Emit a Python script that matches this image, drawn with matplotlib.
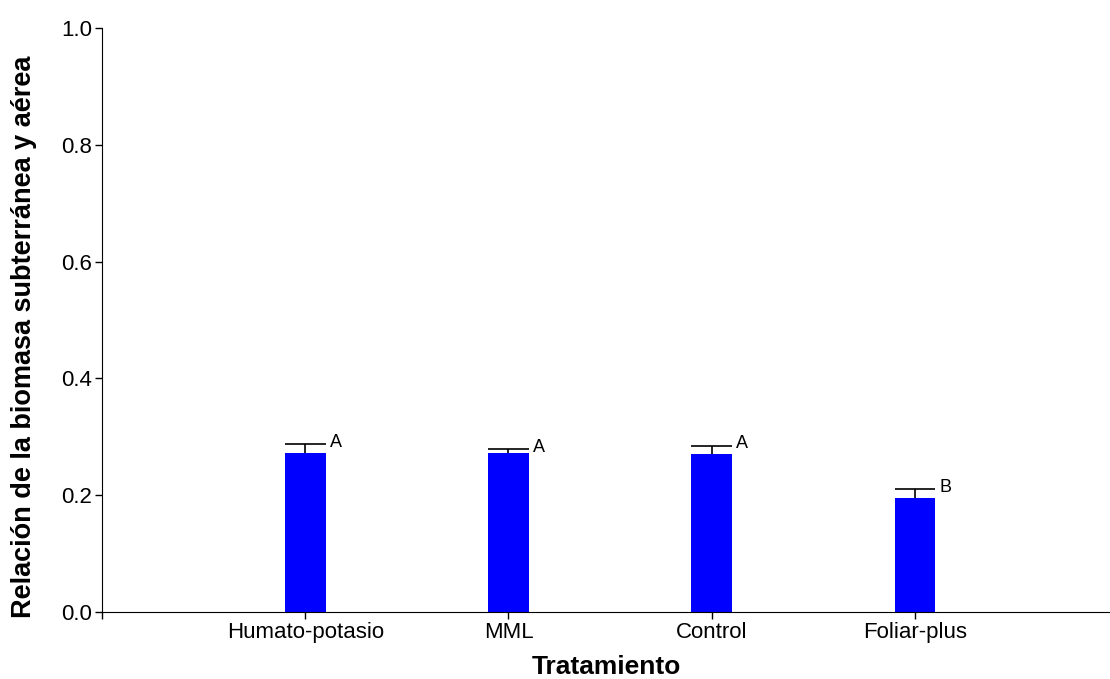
import matplotlib
matplotlib.use('Agg')
from matplotlib import pyplot as plt

# Datos
tratamientos = ['Humato-potasio', 'MML', 'Control', 'Foliar-plus']
medias = [0.272, 0.272, 0.270, 0.196]
errores = [0.016, 0.007, 0.015, 0.015]
letras = ['A', 'A', 'A', 'B']

plt.rcParams['font.family'] = ['Liberation Sans', 'DejaVu Sans']

fig = plt.figure(figsize=(11.1, 6.79), dpi=100)
ax = fig.add_axes([0.0919, 0.0987, 0.9081, 0.8601])

ancho = 0.2
pos = list(range(len(tratamientos)))
ax.bar(pos, medias, width=ancho, color='#0000ff', zorder=2)

# barra de error solo hacia arriba
topes = [m + e for m, e in zip(medias, errores)]
ax.vlines(pos, medias, topes, colors='black', linewidth=1.2, zorder=3)
ax.hlines(topes, [p - ancho / 2 for p in pos], [p + ancho / 2 for p in pos],
          colors='black', linewidth=1.2, zorder=3)

for x, t, l in zip(pos, topes, letras):
    ax.text(x + ancho / 2 + 0.02, t + 0.003, l, fontsize=13, ha='left', va='center')

ax.set_xlim(-1, 3.96)
ax.set_ylim(0, 1.0)
ax.set_xticks([-1] + pos)
ax.set_xticklabels([''] + tratamientos, fontsize=16)
ax.set_yticks([0, 0.2, 0.4, 0.6, 0.8, 1.0])
ax.set_yticklabels(['0.0', '0.2', '0.4', '0.6', '0.8', '1.0'], fontsize=16)
ax.tick_params(direction='out', length=5, width=1, pad=2)
ax.spines['top'].set_visible(False)
ax.spines['right'].set_visible(False)
ax.set_xlabel('Tratamiento', fontsize=19, fontweight='bold', va='center')
ax.xaxis.set_label_coords(0.5, -0.094)
ax.set_ylabel('Relación de la biomasa subterránea y aérea', fontsize=19.5,
              fontweight='bold', va='center')
ax.yaxis.set_label_coords(-0.077, 0.471)

fig.savefig('out.png', dpi=100)
